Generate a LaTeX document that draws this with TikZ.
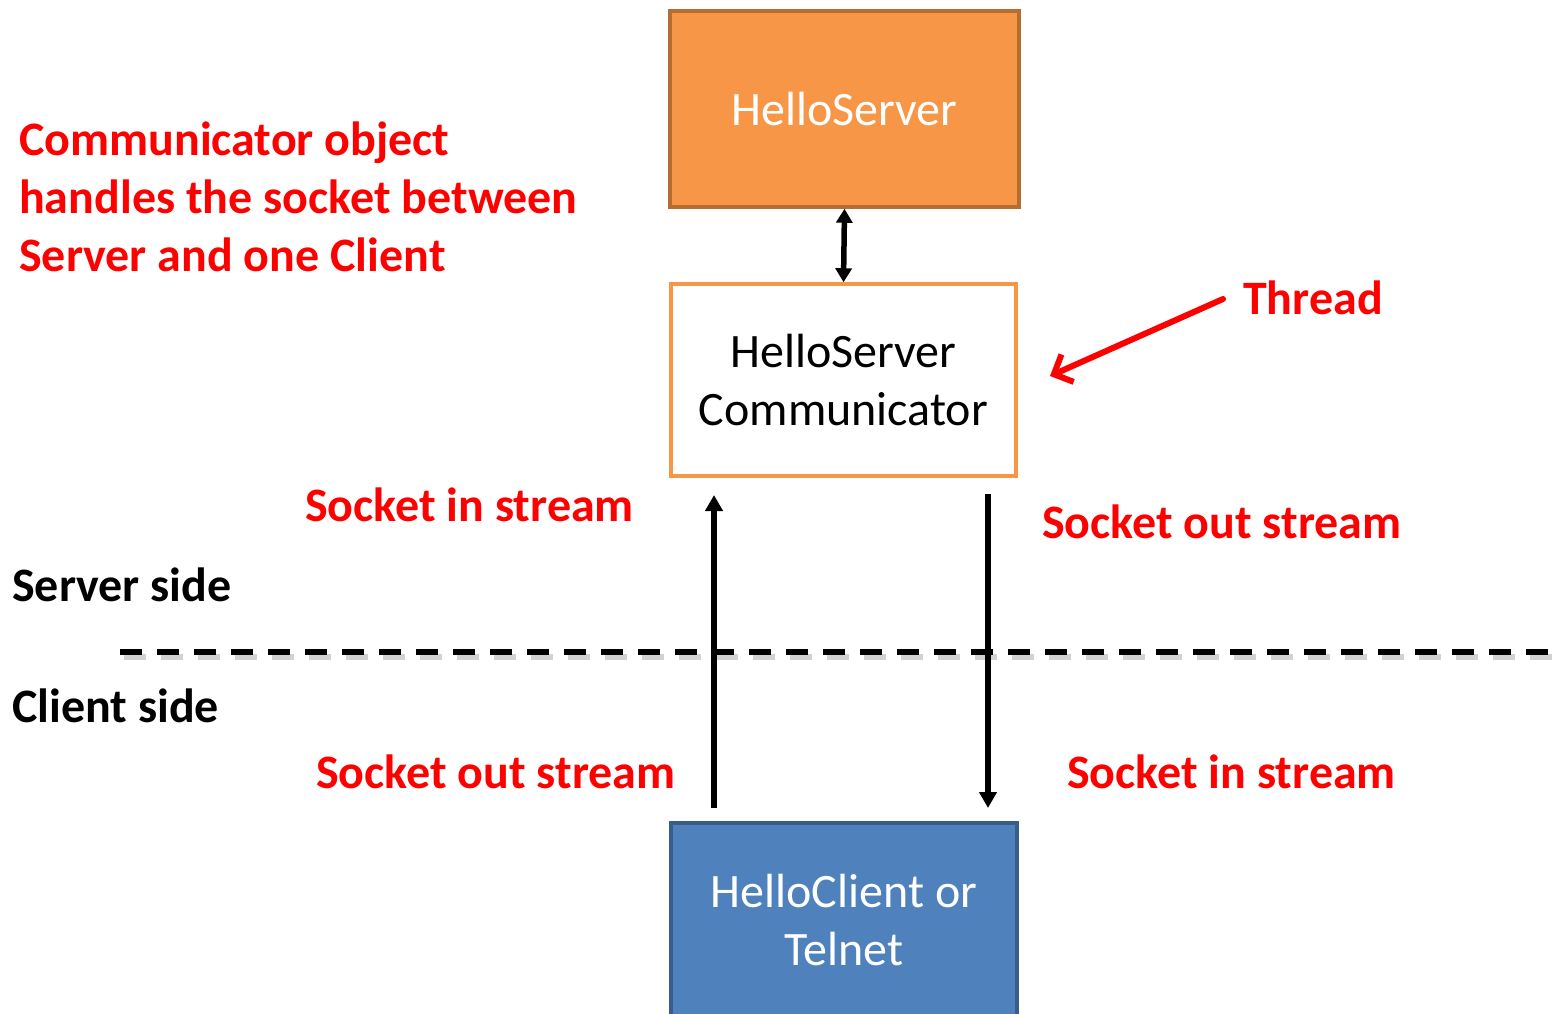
\documentclass[tikz,border=0pt]{standalone}
\usepackage{fontspec}
\setmainfont{Carlito}
\usetikzlibrary{arrows.meta}
\definecolor{srvfill}{HTML}{F79646}
\definecolor{srvedge}{HTML}{B66D31}
\definecolor{cltfill}{HTML}{4F81BD}
\definecolor{cltedge}{HTML}{385D8A}
\definecolor{note}{HTML}{FF0000}
\tikzset{
  px/.style={x=1pt,y=-1pt},
  box/.style={draw,rectangle,line width=3.5pt,align=center,
    font=\fontsize{48}{58}\selectfont},
  redlabel/.style={text=note,font=\bfseries\fontsize{48}{58}\selectfont,inner sep=0pt},
  blacklabel/.style={text=black,font=\bfseries\fontsize{48}{58}\selectfont,inner sep=0pt},
  flow/.style={line width=5.5pt,-{Triangle[length=16pt,width=17pt]}},
  shadowline/.style={line width=6pt,black!22,opacity=0.8},
}
\begin{document}
\begin{tikzpicture}[px]
\useasboundingbox (0,0) rectangle (1558,1013);

% boxes
\node[box,fill=srvfill,draw=srvedge,text=white,minimum width=349pt,minimum height=196pt]
  (srv) at (844.5,109) {HelloServer};
\node[box,fill=white,draw=srvfill,text=black,minimum width=345pt,minimum height=192pt]
  (comm) at (843.5,380) {HelloServer\\Communicator};
\begin{scope}
\clip (0,0) rectangle (1558,1013);
\node[box,fill=cltfill,draw=cltedge,text=white,minimum width=346pt,minimum height=250pt,
  text depth=0pt] (clt) at (844,948) {};
\end{scope}
\node[text=white,align=center,font=\fontsize{48}{58}\selectfont] (cltxt) at (844,920)
  {HelloClient or\\Telnet};

% server side / client side divider
\coordinate (dl) at (120,652);
\coordinate (dr) at (1558,652);
\draw[shadowline,dash pattern=on 22pt off 15pt] ([shift={(4,5)}]dl) -- ([shift={(4,5)}]dr);
\draw[line width=6pt,dash pattern=on 22pt off 15pt] (dl) -- (dr);

% connectors
\draw[line width=5.5pt,{Triangle[length=14pt,width=16pt]}-{Triangle[length=14pt,width=16pt]}]
  (srv.south) -- (comm.north);
\coordinate (upfoot) at (714,808);
\coordinate (uptip) at (714,495);
\coordinate (dnfoot) at (988,494);
\coordinate (dntip) at (988,808);
\draw[flow] (upfoot) -- (uptip);
\draw[flow] (dnfoot) -- (dntip);

% thread pointer
\node[redlabel,anchor=west] (thread) at (1243,298) {Thread};
\coordinate (thtail) at (1223,299);
\coordinate (thtip) at (1050,376);
\draw[note,line width=6pt,line cap=round,
  -{Straight Barb[length=15pt,width=30pt,line width=6pt]}] (thtail) -- (thtip);

% notes
\node[redlabel,anchor=west,align=left] (about) at (19,197)
  {Communicator object\\handles the socket between\\Server and one Client};
\node[redlabel,anchor=west] (sin1) at (305,505) {Socket in stream};
\node[redlabel,anchor=west] (sout1) at (1042,522) {Socket out stream};
\node[redlabel,anchor=west] (sout2) at (316,772) {Socket out stream};
\node[redlabel,anchor=west] (sin2) at (1067,772) {Socket in stream};
\node[blacklabel,anchor=west] (sside) at (12,585) {Server side};
\node[blacklabel,anchor=west] (cside) at (12,706) {Client side};
\end{tikzpicture}
\end{document}
